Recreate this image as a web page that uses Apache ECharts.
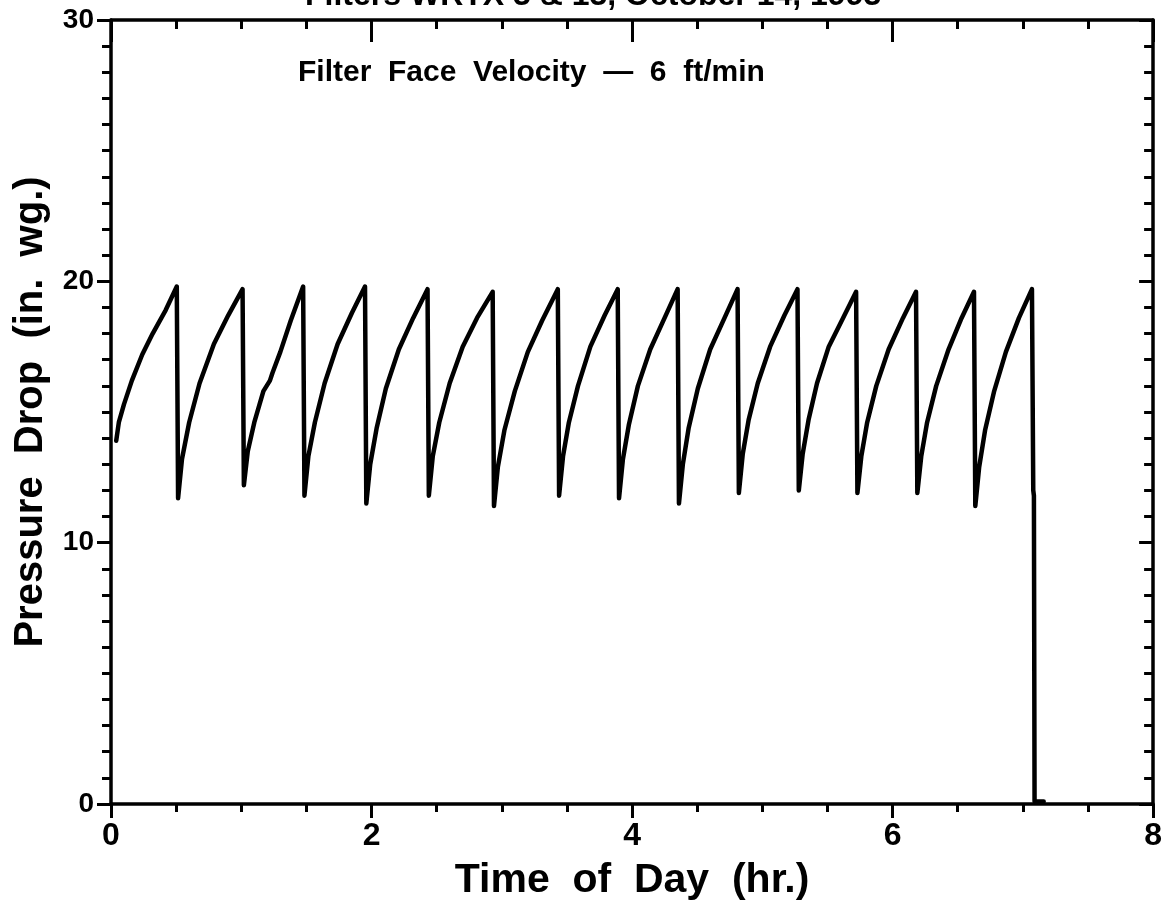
<!DOCTYPE html>
<html>
<head>
<meta charset="utf-8">
<script src="https://cdn.jsdelivr.net/npm/echarts@6/dist/echarts.min.js"></script>
<style>
  html, body { margin: 0; padding: 0; background: #fff; }
  #chart { width: 1165px; height: 906px; }
</style>
</head>
<body>
<div id="chart"></div>
<script>
// ---- data ----
var titleText = 'Filters WRTX 3 & 13, October 14, 1993';
var subtitleText = 'Filter  Face  Velocity  \u2014  6  ft/min';
var xName = 'Time  of  Day  (hr.)';
var yName = 'Pressure  Drop  (in.  wg.)';
var xTicks = [0, 2, 4, 6, 8];
var yTicks = [0, 10, 20, 30];

var timeHr = [
  0.04, 0.06, 0.10, 0.16, 0.24, 0.32, 0.42, 0.505,
  0.515, 0.545, 0.60, 0.68, 0.79, 0.90, 1.01,
  1.02, 1.05, 1.10, 1.17, 1.22, 1.24, 1.30, 1.38, 1.475,
  1.485, 1.515, 1.565, 1.64, 1.74, 1.85, 1.95,
  1.96, 1.99, 2.04, 2.11, 2.21, 2.32, 2.43,
  2.44, 2.47, 2.52, 2.60, 2.70, 2.81, 2.93,
  2.94, 2.97, 3.02, 3.10, 3.20, 3.31, 3.43,
  3.44, 3.47, 3.515, 3.585, 3.68, 3.79, 3.89,
  3.90, 3.93, 3.975, 4.045, 4.14, 4.25, 4.35,
  4.36, 4.39, 4.435, 4.505, 4.60, 4.71, 4.81,
  4.82, 4.85, 4.895, 4.965, 5.06, 5.17, 5.27,
  5.28, 5.31, 5.355, 5.42, 5.51, 5.62, 5.72,
  5.73, 5.76, 5.805, 5.875, 5.97, 6.08, 6.18,
  6.19, 6.22, 6.265, 6.335, 6.43, 6.53, 6.625,
  6.635, 6.665, 6.71, 6.78, 6.87, 6.97, 7.07,
  7.08, 7.085, 7.09, 7.16
];
var pressure = [
  13.9, 14.6, 15.3, 16.2, 17.2, 18.0, 18.9, 19.8,
  11.7, 13.2, 14.6, 16.1, 17.6, 18.7, 19.7,
  12.2, 13.5, 14.6, 15.8, 16.2, 16.5, 17.3, 18.5, 19.8,
  11.8, 13.3, 14.6, 16.1, 17.6, 18.8, 19.8,
  11.5, 13.0, 14.4, 15.9, 17.4, 18.6, 19.7,
  11.8, 13.3, 14.6, 16.1, 17.5, 18.6, 19.6,
  11.4, 12.9, 14.3, 15.8, 17.3, 18.5, 19.7,
  11.8, 13.3, 14.6, 16.0, 17.5, 18.7, 19.7,
  11.7, 13.2, 14.5, 16.0, 17.4, 18.6, 19.7,
  11.5, 13.0, 14.4, 15.9, 17.4, 18.6, 19.7,
  11.9, 13.4, 14.7, 16.1, 17.5, 18.7, 19.7,
  12.0, 13.4, 14.7, 16.1, 17.5, 18.6, 19.6,
  11.9, 13.3, 14.6, 16.0, 17.4, 18.6, 19.6,
  11.9, 13.3, 14.6, 16.0, 17.4, 18.6, 19.6,
  11.4, 12.9, 14.3, 15.8, 17.3, 18.6, 19.7,
  12.0, 11.8, 0.1, 0.1
];

var seriesData = timeHr.map(function (t, i) { return [t, pressure[i]]; });

var chart = echarts.init(document.getElementById('chart'), null, { renderer: 'canvas' });

var NARROW = '"Liberation Sans Narrow", "Liberation Sans", Arial, sans-serif';
var SANS = '"Liberation Sans", Arial, sans-serif';

function xAxisBase(pos, showLabel, inside, majorLen, minorLen) {
  return {
    type: 'value', position: pos, min: 0, max: 8, interval: 2,
    axisLine: { show: true, onZero: false, lineStyle: { color: '#000', width: 3.5 } },
    axisTick: { show: true, inside: inside, length: majorLen, lineStyle: { color: '#000', width: 3 } },
    minorTick: { show: true, splitNumber: 4, length: minorLen, lineStyle: { color: '#000', width: 3 } },
    splitLine: { show: false },
    minorSplitLine: { show: false },
    axisLabel: showLabel ? {
      show: true, margin: 16, color: '#000', fontSize: 32, fontWeight: 'bold', fontFamily: NARROW,
      formatter: function (v) { return xTicks.indexOf(v) >= 0 ? String(v) : ''; }
    } : { show: false }
  };
}
function yAxisBase(pos, showLabel, inside) {
  return {
    type: 'value', position: pos, min: 0, max: 30, interval: 10,
    axisLine: { show: true, onZero: false, lineStyle: { color: '#000', width: 3.5 } },
    axisTick: { show: true, inside: inside, length: 14, lineStyle: { color: '#000', width: 3 } },
    minorTick: { show: true, splitNumber: 10, length: 9, lineStyle: { color: '#000', width: 3 } },
    splitLine: { show: false },
    minorSplitLine: { show: false },
    axisLabel: showLabel ? {
      show: true, margin: 17, color: '#000', fontSize: 28, fontWeight: 'bold', fontFamily: SANS,
      formatter: function (v) { return yTicks.indexOf(v) >= 0 ? String(v) : ''; }
    } : { show: false }
  };
}

var xBottom = xAxisBase('bottom', true, false, 14, 8);
xBottom.name = xName;
xBottom.nameLocation = 'middle';
xBottom.nameGap = 56;
xBottom.nameTextStyle = { color: '#000', fontSize: 41, fontWeight: 'bold', fontFamily: NARROW };
var xTop = xAxisBase('top', false, true, 22, 9);

var yLeft = yAxisBase('left', true, false);
yLeft.name = yName;
yLeft.nameLocation = 'middle';
yLeft.nameGap = 60;
yLeft.nameTextStyle = { color: '#000', fontSize: 40, fontWeight: 'bold', fontFamily: NARROW };
var yRight = yAxisBase('right', false, true);

chart.setOption({
  animation: false,
  backgroundColor: '#fff',
  grid: { left: 111, right: 11, top: 20, bottom: 100, containLabel: false },
  xAxis: [xBottom, xTop],
  yAxis: [yLeft, yRight],
  graphic: [
    { type: 'text', left: 305, top: -20,
      style: { text: titleText, fill: '#000', fontSize: 32, fontWeight: 'bold', fontFamily: NARROW } },
    { type: 'text', left: 298, top: 58,
      style: { text: subtitleText, fill: '#000', fontSize: 30, fontWeight: 'bold', fontFamily: NARROW } }
  ],
  series: [{
    type: 'line',
    xAxisIndex: 0, yAxisIndex: 0,
    data: seriesData,
    showSymbol: false,
    symbol: 'none',
    smooth: false,
    lineStyle: { color: '#000', width: 4.5, join: 'round', cap: 'round' }
  }]
});
</script>
</body>
</html>
